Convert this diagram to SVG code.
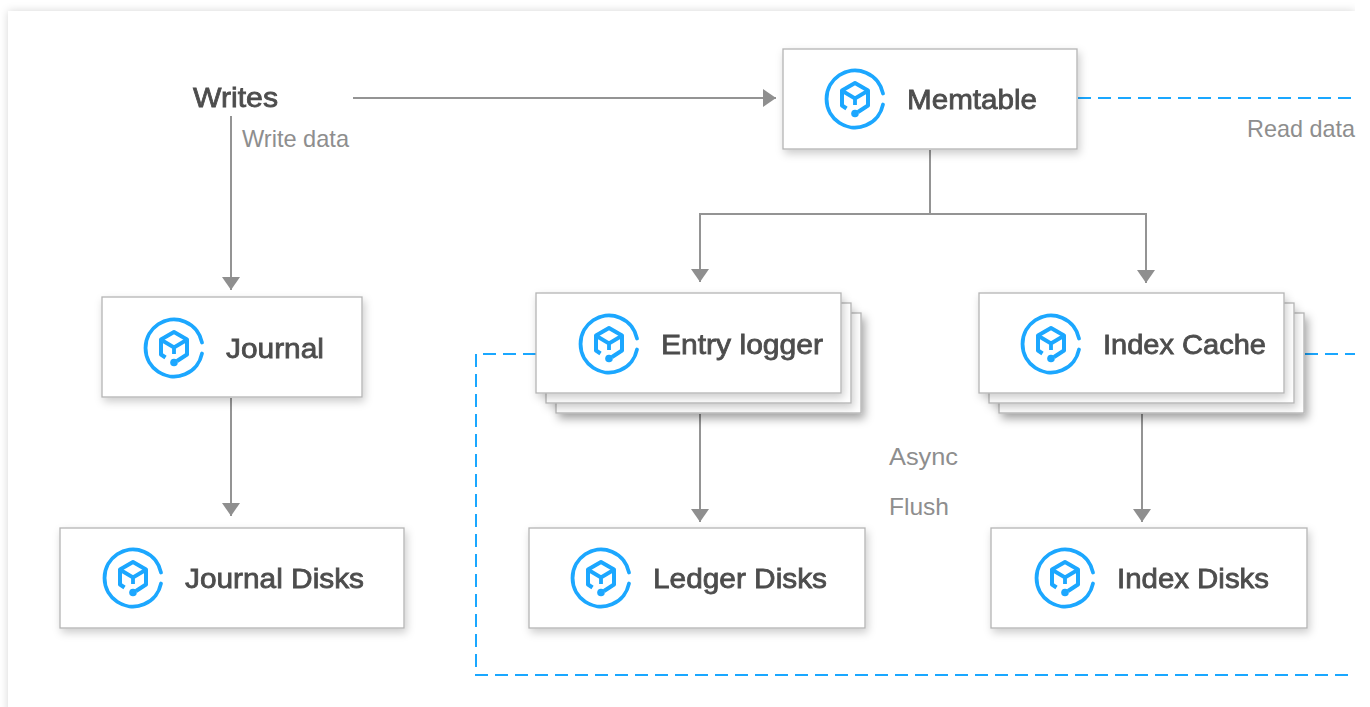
<svg xmlns="http://www.w3.org/2000/svg" width="1370" height="707" viewBox="0 0 1370 707">
<defs>
<filter id="page" x="-5%" y="-5%" width="110%" height="110%"><feDropShadow dx="0" dy="0" stdDeviation="4" flood-color="#000" flood-opacity="0.16"/></filter>
<filter id="card" x="-10%" y="-20%" width="125%" height="150%"><feDropShadow dx="2" dy="4" stdDeviation="4" flood-color="#000" flood-opacity="0.2"/></filter>
<filter id="card2" x="-10%" y="-20%" width="125%" height="150%"><feDropShadow dx="3" dy="5" stdDeviation="5" flood-color="#000" flood-opacity="0.36"/></filter>
<filter id="soft" x="-5%" y="-20%" width="110%" height="140%"><feGaussianBlur stdDeviation="0.5"/></filter>
<marker id="arrow" markerUnits="userSpaceOnUse" markerWidth="16" markerHeight="20" refX="14" refY="10" orient="auto"><path d="M1 1L14 10L1 19Z" fill="#8f8f8f"/></marker>
<symbol id="icon" viewBox="0 0 60 60" overflow="visible">
<g filter="url(#soft)">
<path d="M58 24.500A28.500 28.500 0 1 0 58 35.500" fill="none" stroke="#1aa7ff" stroke-width="3.800" stroke-linecap="round"/>
<path d="M21.500 39.500L17 36.500V21.500L30 14L43 21.500V36.500L33 43" fill="none" stroke="#1aa7ff" stroke-width="4" stroke-linejoin="round"/>
<path d="M17.500 22L30 29.500L42.500 22M30 29.500V36" fill="none" stroke="#1aa7ff" stroke-width="3.800"/>
<circle cx="30" cy="44.500" r="3.800" fill="#1aa7ff"/>
</g>
</symbol>
</defs>
<style>
.box{fill:#fff;stroke:#b4b4b4;stroke-width:1.300}
.title{font-family:"Liberation Sans",Arial,sans-serif;font-size:28px;fill:#4d4d4d;stroke:#4d4d4d;stroke-width:.8px;filter:url(#soft)}
.note{font-family:"Liberation Sans",Arial,sans-serif;font-size:24px;fill:#8e8e8e}
.flow{fill:none;stroke:#949494;stroke-width:2}
.arr{marker-end:url(#arrow)}
.dash{fill:none;stroke:#1aa7ff;stroke-width:2;stroke-dasharray:13 7}
</style>
<rect width="1370" height="707" fill="#fff"/>
<g id="page-bg"><rect x="8" y="11" width="1347" height="720" fill="#fff" filter="url(#page)"/><rect x="1355" y="0" width="15" height="707" fill="#fff"/></g>
<g id="connectors">
<path class="flow arr" d="M353 98H776"/>
<path class="flow arr" d="M231 116V290"/>
<path class="flow arr" d="M231 398V516"/>
<path class="flow" d="M930 150V214"/>
<path class="flow arr" d="M930 214H700V282"/>
<path class="flow arr" d="M930 214H1146V283"/>
<path class="flow arr" d="M700 414V522"/>
<path class="flow arr" d="M1142 414V522"/>
<path class="dash" d="M1078 98H1355"/>
<path class="dash" d="M536 354H476V675H1355"/>
<path class="dash" d="M1305 354H1355"/>
</g>
<g id="writes"><text class="title" x="193" y="107" textLength="85" lengthAdjust="spacingAndGlyphs">Writes</text></g>
<text class="note" x="242" y="147" textLength="107" lengthAdjust="spacingAndGlyphs">Write data</text>
<text class="note" x="1247" y="137" textLength="108" lengthAdjust="spacingAndGlyphs">Read data</text>
<text class="note" x="889" y="465" textLength="69" lengthAdjust="spacingAndGlyphs">Async</text>
<text class="note" x="889" y="515" textLength="60" lengthAdjust="spacingAndGlyphs">Flush</text>
<g id="memtable"><rect class="box" x="783" y="49" width="294" height="100" filter="url(#card)"/><use href="#icon" x="825" y="69" width="60" height="60"/><text class="title" x="907" y="109" textLength="130" lengthAdjust="spacingAndGlyphs">Memtable</text></g>
<g id="journal"><rect class="box" x="102" y="297" width="260" height="100" filter="url(#card)"/><use href="#icon" x="144" y="318" width="60" height="60"/><text class="title" x="226" y="358" textLength="98" lengthAdjust="spacingAndGlyphs">Journal</text></g>
<g id="journal-disks"><rect class="box" x="60" y="528" width="344" height="100" filter="url(#card)"/><use href="#icon" x="103" y="548" width="60" height="60"/><text class="title" x="185" y="588" textLength="179" lengthAdjust="spacingAndGlyphs">Journal Disks</text></g>
<g id="entry-logger"><rect class="box" x="556" y="313" width="305" height="100" filter="url(#card2)"/><rect class="box" x="546" y="303" width="305" height="100" filter="url(#card)"/><rect class="box" x="536" y="293" width="305" height="100" filter="url(#card)"/><use href="#icon" x="579" y="314" width="60" height="60"/><text class="title" x="661" y="354" textLength="162" lengthAdjust="spacingAndGlyphs">Entry logger</text></g>
<g id="index-cache"><rect class="box" x="999" y="313" width="305" height="100" filter="url(#card2)"/><rect class="box" x="989" y="303" width="305" height="100" filter="url(#card)"/><rect class="box" x="979" y="293" width="305" height="100" filter="url(#card)"/><use href="#icon" x="1021" y="314" width="60" height="60"/><text class="title" x="1103" y="354" textLength="163" lengthAdjust="spacingAndGlyphs">Index Cache</text></g>
<g id="ledger-disks"><rect class="box" x="529" y="528" width="336" height="100" filter="url(#card)"/><use href="#icon" x="571" y="548" width="60" height="60"/><text class="title" x="653" y="588" textLength="174" lengthAdjust="spacingAndGlyphs">Ledger Disks</text></g>
<g id="index-disks"><rect class="box" x="991" y="528" width="316" height="100" filter="url(#card)"/><use href="#icon" x="1035" y="548" width="60" height="60"/><text class="title" x="1117" y="588" textLength="152" lengthAdjust="spacingAndGlyphs">Index Disks</text></g>
</svg>
